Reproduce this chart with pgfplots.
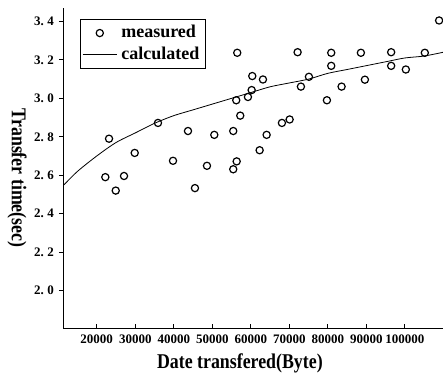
\documentclass[border=0pt]{standalone}
\usepackage{pgfplots}
\pgfplotsset{compat=1.18}
\usepackage{fontspec}
\setmainfont{Liberation Serif}
\pgfplotstableread{
x y
22230 2.59
23190 2.79
24930 2.52
27080 2.596
29860 2.716
35900 2.872
39800 2.675
43690 2.83
45500 2.533
48620 2.649
50520 2.81
55440 2.83
55440 2.631
56330 2.672
56480 3.237
56220 2.99
57260 2.91
59260 3.007
60220 3.043
60380 3.116
63150 3.098
62290 2.73
64110 2.81
68080 2.872
70080 2.89
72150 3.24
73010 3.061
75090 3.112
79760 2.99
80880 3.237
80880 3.169
83570 3.061
88580 3.237
89620 3.097
96440 3.24
96440 3.169
100250 3.15
105180 3.237
108890 3.405
}\measured
\pgfplotstableread{
x y
11500 2.55
15000 2.62
20000 2.70
25000 2.77
30000 2.82
35000 2.87
40000 2.91
45000 2.94
50000 2.97
55000 3.00
60000 3.03
65000 3.06
70000 3.08
75000 3.10
80000 3.13
85000 3.15
90000 3.17
95000 3.19
100000 3.21
105000 3.22
110000 3.24
}\calculated
\begin{document}
\begin{tikzpicture}
\begin{axis}[
  scale only axis, width=189.5pt, height=160.5pt,
  xmin=11500, xmax=109900, ymin=1.8, ymax=3.47,
  scaled x ticks=false, scaled y ticks=false,
  axis lines=left, axis line style={-, line width=0.5pt},
  xtick={20000,30000,40000,50000,60000,70000,80000,90000,100000},
  xticklabels={20000,30000,40000,50000,60000,70000,80000,90000,100000},
  ytick={2.0,2.2,2.4,2.6,2.8,3.0,3.2,3.4},
  yticklabels={2.\hspace{1.8pt}0,2.\hspace{1.8pt}2,2.\hspace{1.8pt}4,2.\hspace{1.8pt}6,2.\hspace{1.8pt}8,3.\hspace{1.8pt}0,3.\hspace{1.8pt}2,3.\hspace{1.8pt}4},
  tick align=inside, major tick length=2.5pt,
  ytick style={xshift=-2.5pt},
  tick style={black, line width=0.5pt},
  xticklabel style={font=\bfseries\fontsize{6.5}{7}\selectfont, yshift=0.5pt},
  yticklabel style={font=\bfseries\fontsize{6.5}{7}\selectfont, xshift=-1.5pt},
  every axis x label/.style={at={(axis description cs:0.464,-0.106)}, anchor=center},
  every axis y label/.style={at={(axis description cs:-0.124,0.47)}, anchor=center, rotate=-90},
  xlabel={\bfseries\fontsize{10.5}{12}\selectfont\scalebox{0.85}[1]{Date transfered(Byte)}},
  ylabel={\bfseries\fontsize{10.5}{12}\selectfont\scalebox{0.85}[1]{Transfer time(sec)}},
  legend style={at={(0.042,0.966)}, anchor=north west, draw=black, line width=0.4pt,
    font=\bfseries\fontsize{9}{9}\selectfont, inner sep=1pt, row sep=-1pt,
    legend cell align=left},
  clip=false,
]
\addplot[only marks, mark=o, mark size=1.8pt, line width=0.6pt, black] table[x=x,y=y] {\measured};
\addlegendentry{measured}
\addplot[black, line width=0.4pt, smooth] table[x=x,y=y] {\calculated};
\addlegendentry{calculated}
\end{axis}
\pgfresetboundingbox
\path (-32pt,-22pt) rectangle (189.5pt,164.5pt);
\end{tikzpicture}
\end{document}
